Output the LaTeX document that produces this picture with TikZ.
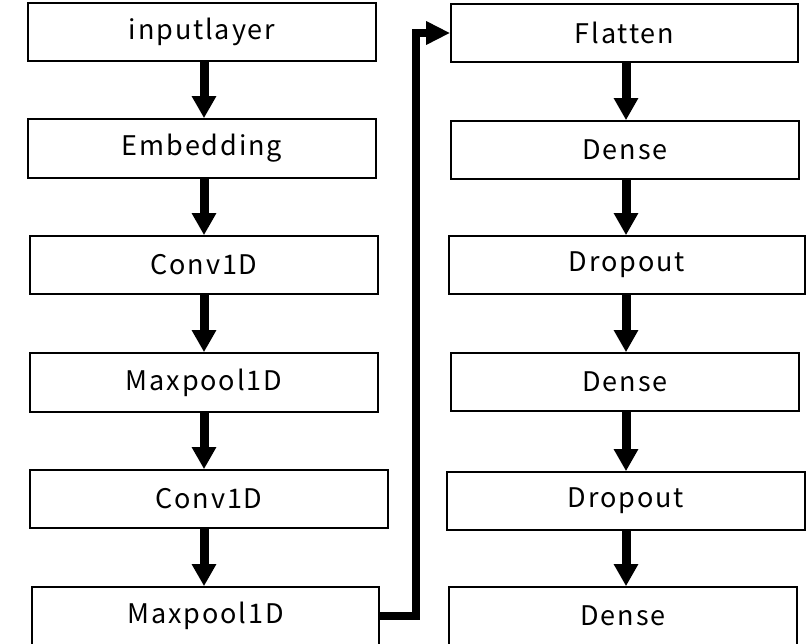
\documentclass[tikz,border=0pt]{standalone}
\usepackage{fontspec}
\newfontfamily\jpfont[LetterSpace=7]{Noto Sans CJK JP}
\usetikzlibrary{arrows.meta}

\tikzset{
  layer/.style={draw=black, line width=1.6pt, fill=white, inner sep=0pt,
                font=\jpfont\fontsize{27}{31}\selectfont},
  flow/.style={draw=black, line width=9pt,
               -{Triangle[width=23pt,length=22pt]}},
  bus/.style={draw=black, line width=8pt, line join=miter,
              -{Triangle[width=22pt,length=24pt]}}
}

\begin{document}
\begin{tikzpicture}[x=1pt,y=-1pt]
  \useasboundingbox (0,0) rectangle (806,644);

  % left column
  \node[layer, minimum width=348pt, minimum height=58pt] (inp) at (202,32)    {inputlayer};
  \node[layer, minimum width=348pt, minimum height=59pt] (emb) at (202,148.5) {Embedding};
  \node[layer, minimum width=348pt, minimum height=58pt] (c1)  at (204,265)   {Conv1D};
  \node[layer, minimum width=348pt, minimum height=59pt] (m1)  at (204,382.5) {Maxpool1D};
  \node[layer, minimum width=358pt, minimum height=58pt] (c2)  at (209,499)   {Conv1D};
  \node[layer, minimum width=347pt, minimum height=58pt] (m2)  at (205.5,616) {Maxpool1D};

  % right column
  \node[layer, minimum width=347pt, minimum height=58pt] (fl)  at (624.5,33)  {Flatten};
  \node[layer, minimum width=348pt, minimum height=58pt] (d1)  at (625,150)   {Dense};
  \node[layer, minimum width=356pt, minimum height=58pt] (dr1) at (627,265)   {Dropout};
  \node[layer, minimum width=348pt, minimum height=58pt] (d2)  at (625,382)   {Dense};
  \node[layer, minimum width=358pt, minimum height=58pt] (dr2) at (626,501)   {Dropout};
  \node[layer, minimum width=348pt, minimum height=58pt] (d3)  at (623,616)   {Dense};

  % shaft positions of the two columns
  \coordinate (lx) at (204,0);
  \coordinate (rx) at (626,0);
  \coordinate (busx) at (416,0);

  % arrows down the left column
  \draw[flow] (inp.south -| lx) -- (emb.north -| lx);
  \draw[flow] (emb.south -| lx) -- (c1.north -| lx);
  \draw[flow] (c1.south -| lx)  -- (m1.north -| lx);
  \draw[flow] (m1.south -| lx)  -- (c2.north -| lx);
  \draw[flow] (c2.south -| lx)  -- (m2.north -| lx);

  % arrows down the right column
  \draw[flow] (fl.south -| rx)  -- (d1.north -| rx);
  \draw[flow] (d1.south -| rx)  -- (dr1.north -| rx);
  \draw[flow] (dr1.south -| rx) -- (d2.north -| rx);
  \draw[flow] (d2.south -| rx)  -- (dr2.north -| rx);
  \draw[flow] (dr2.south -| rx) -- (d3.north -| rx);

  % link from the last left layer up to Flatten
  \draw[bus] (m2.east) -- (m2.east -| busx) -- (fl.west -| busx) -- (fl.west);
\end{tikzpicture}
\end{document}
